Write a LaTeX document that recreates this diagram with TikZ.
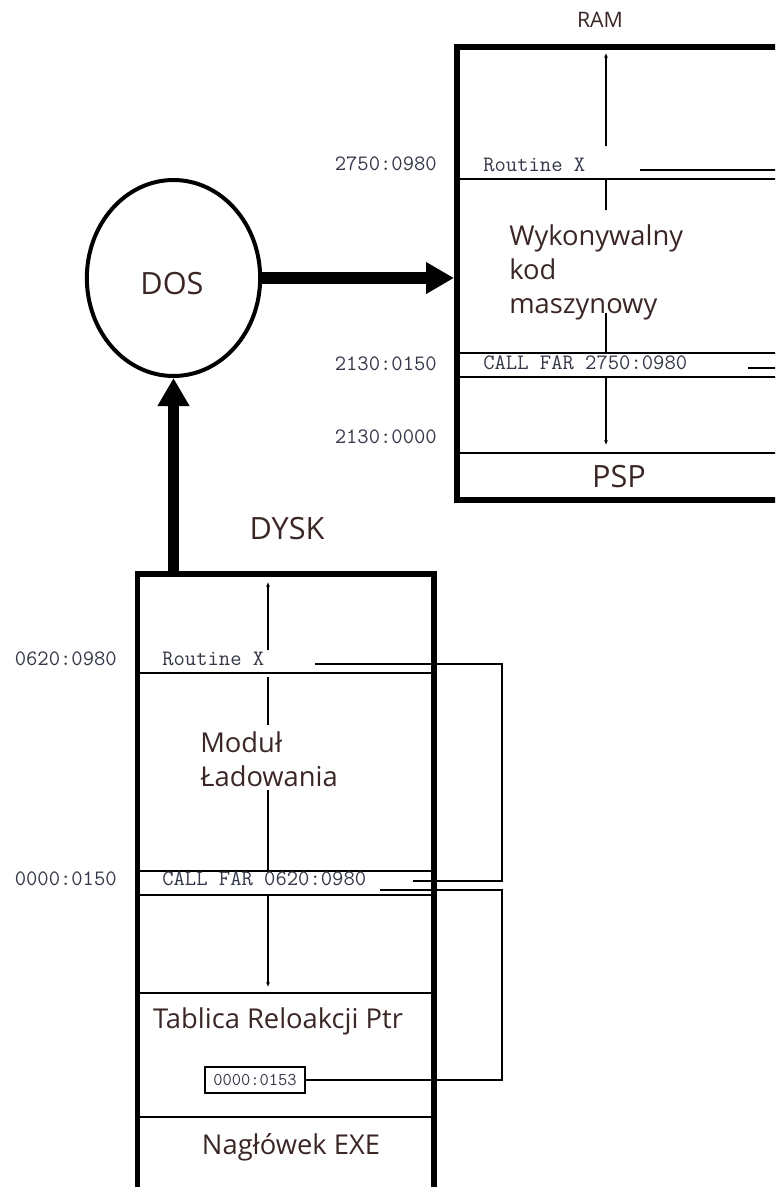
\documentclass[tikz,border=0pt]{standalone}
\usepackage{fontspec}
\setmainfont{Open Sans}
\usetikzlibrary{positioning,arrows.meta,shapes.geometric}
\definecolor{ink}{HTML}{3B2626}
\definecolor{monoink}{HTML}{343848}

\begin{document}
\begin{tikzpicture}[x=0.75pt,y=-0.75pt,
  frame/.style={line width=4.2pt},
  rule/.style={line width=1.2pt},
  link/.style={line width=1pt},
  flow/.style={line width=1.1pt,-{Latex[length=3.5pt,width=3pt]}},
  big/.style={line width=8.5pt,-{Triangle[length=21pt,width=22.5pt]}},
  lbl/.style={font=\fontsize{20.5}{25.5}\selectfont, text=ink, inner sep=0},
  head/.style={font=\fontsize{23}{26}\selectfont, text=ink, inner sep=0, anchor=base},
  addr/.style={font=\ttfamily\fontsize{16.5}{18}\selectfont, text=monoink, inner sep=0, anchor=base east},
  code/.style={font=\ttfamily\fontsize{16.5}{18}\selectfont, text=monoink, inner sep=0, anchor=base west}]
\useasboundingbox (0,0) rectangle (775,1187);
\clip (0,0) rectangle (775,1187);

% RAM
\draw[frame] (457,47) rectangle (800,500);
\coordinate (ram) at (454,47);
\foreach \y in {179,353,377,453} \draw[rule] (460,\y) -- (800,\y);
\draw[flow] (606,146) -- (606,53);
\draw[rule] (606,179) -- (606,210) (606,313) -- (606,353);
\draw[flow] (606,377) -- (606,445);
\node[head, font=\fontsize{16}{18}\selectfont] (ramtitle) at (600,28) {RAM};
\node[addr] (a1) at (437,171) {2750:0980};
\node[addr] (a2) at (437,370) {2130:0150};
\node[addr] (a3) at (437,443) {2130:0000};
\node[code] (ramRtn) at (483,172) {Routine X};
\node[code] (ramCall) at (483,369) {CALL FAR 2750:0980};
\node[lbl, anchor=north west, align=left] (exec) at (509,224) {Wykonywalny\\kod\\maszynowy};
\node[head] (psp) at (619,487) {PSP};
\draw[link] (640,170) -- (800,170);
\draw[link] (748,368) -- (800,368);

% DOS
\node[draw, ellipse, line width=3pt, minimum width=130pt, minimum height=147pt, inner sep=0] (dos) at (173.5,278) {};
\node[head] (dostxt) at (172,295) {DOS};

% DYSK
\draw[frame] (137.5,574) rectangle (434,1210);
\coordinate (dysk) at (172,574);
\foreach \y in {673,871,895,993,1117} \draw[rule] (140,\y) -- (432,\y);
\draw[flow] (268,650) -- (268,582);
\draw[rule] (268,677) -- (268,725) (268,790) -- (268,871);
\draw[flow] (268,895) -- (268,987);
\node[head] (dysktitle) at (287,539) {DYSK};
\node[addr] (a4) at (117,665) {0620:0980};
\node[addr] (a5) at (117,885) {0000:0150};
\node[code] (dskRtn) at (162,665) {Routine X};
\node[code] (dskCall) at (162,885) {CALL FAR 0620:0980};
\node[lbl, anchor=north west, align=left] (load) at (200,731) {Moduł\\Ładowania};
\node[lbl, anchor=base] (reloc) at (278,1028) {Tablica Reloakcji Ptr};
\node[draw, line width=1pt, font=\ttfamily\fontsize{13.5}{15}\selectfont, text=monoink,
  inner sep=1pt, minimum width=75pt, minimum height=19.5pt] (ptr) at (255,1080) {0000:0153};
\node[lbl, anchor=base] (hdr) at (291,1154) {Nagłówek EXE};
\draw[link] (315,664) -| (502,881) -- (413,881);
\draw[link] (380,890) -| (502,1080) -- (ptr.east);

% flow between
\draw[big] (dos.east) -- (dos.east -| ram);
\draw[big] (dos.south |- dysk) -- (dos.south);
\end{tikzpicture}
\end{document}
